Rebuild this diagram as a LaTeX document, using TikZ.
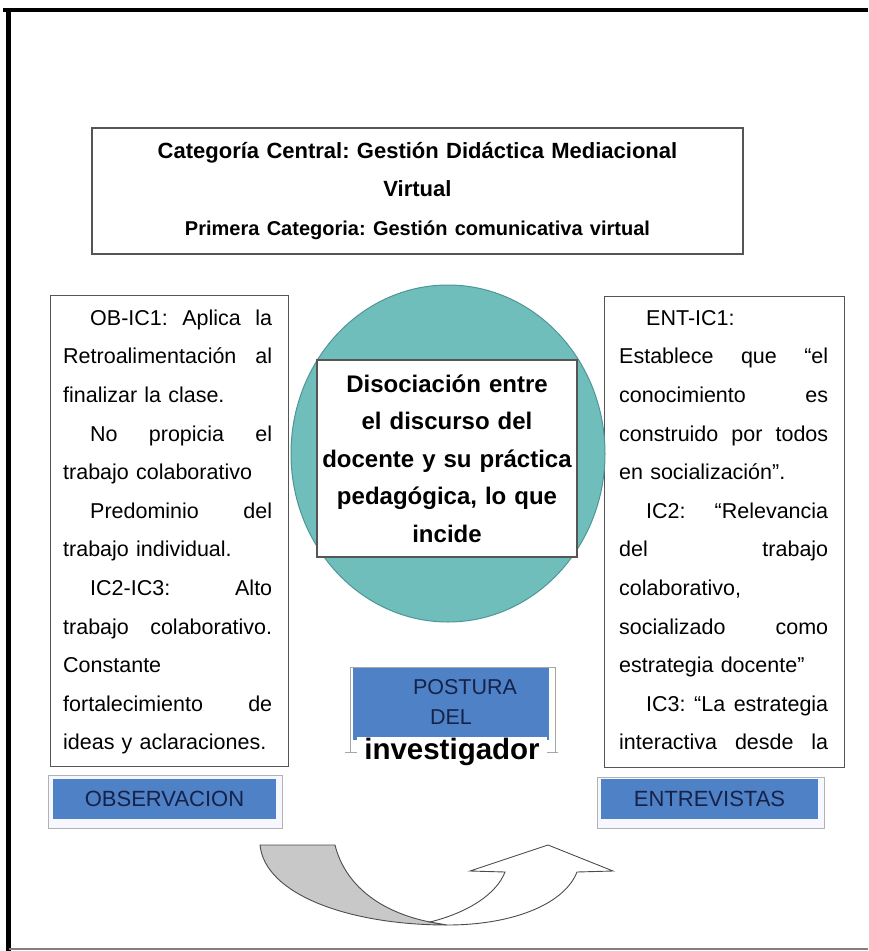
\documentclass[tikz,border=0pt]{standalone}
\usepackage{fontspec}
\setmainfont{Liberation Sans}
\usetikzlibrary{shapes.geometric}
\definecolor{tealfill}{RGB}{112,190,188}
\definecolor{tealline}{RGB}{78,150,150}
\definecolor{labelblue}{RGB}{79,129,199}
\definecolor{labelnavy}{RGB}{22,34,72}
\definecolor{boxgray}{RGB}{85,85,85}
\definecolor{arrowgray}{RGB}{200,200,200}
\frenchspacing
\tikzset{
  textbox/.style={draw=boxgray, line width=1.2pt, fill=white, inner sep=0pt},
  bodytext/.style={text width=209pt, align=left, inner sep=0pt,
    font=\fontsize{21.5}{38.6}\selectfont},
  labelframe/.style={draw=gray!60, line width=1pt, fill=blue!3, inner sep=0pt},
  bluelabel/.style={fill=labelblue, inner sep=0pt, text=labelnavy,
    font=\fontsize{22}{25}\selectfont},
  curvearrow/.style={draw=gray!60!black, line width=0.9pt}
}
\begin{document}
\begin{tikzpicture}[x=1pt,y=-1pt]
\useasboundingbox (0,0) rectangle (868,951);
% outer frame
\draw[line width=4pt] (3,9.5) -- (868,9.5);
\draw[line width=5pt] (8.5,9.5) -- (8.5,951);
\draw[gray, line width=2pt] (8.5,949) -- (868,949);
% title
\node[textbox, minimum width=651pt, minimum height=126pt, text width=640pt, align=center,
  font=\bfseries\fontsize{22}{38.5}\selectfont] (titlebox) at (417.5,191)
  {Categoría Central: Gestión Didáctica Mediacional\\Virtual\\
   {\fontsize{20}{38.5}\selectfont Primera Categoria: Gestión comunicativa virtual}};
% side boxes
\node[textbox, minimum width=238pt, minimum height=471pt, anchor=north west] (obsbox) at (50,295) {};
\node[textbox, minimum width=240pt, minimum height=471pt, anchor=north west] (entbox) at (604,296) {};
\node[bodytext, anchor=north west] (obstext) at (63,298) {%
\strut\hspace*{27pt}OB-IC1:\hfill Aplica\hfill la\\
Retroalimentación\hfill al\\
finalizar la clase.\\
\hspace*{27pt}No\hfill propicia\hfill el\\
trabajo colaborativo\\
\hspace*{27pt}Predominio\hfill del\\
trabajo individual.\\
\hspace*{27pt}IC2-IC3:\hfill Alto\\
trabajo\hfill colaborativo.\\
Constante\\
fortalecimiento\hfill de\\
ideas y aclaraciones.};
\node[bodytext, anchor=north west] (enttext) at (619,298) {%
\strut\hspace*{27pt}ENT-IC1:\\
Establece\hfill que\hfill “el\\
conocimiento\hfill es\\
construido\hfill por\hfill todos\\
en socialización”.\\
\hspace*{27pt}IC2:\hfill “Relevancia\\
del\hfill trabajo\\
colaborativo,\\
socializado\hfill como\\
estrategia docente”\\
\hspace*{27pt}IC3:\hfill “La\hfill estrategia\\
interactiva\hfill desde\hfill la};
% centre
\node[ellipse, draw=tealline, line width=1pt, fill=tealfill, minimum width=314pt,
  minimum height=337pt, inner sep=0pt] (circ) at (448,453.5) {};
\node[textbox, minimum width=260pt, minimum height=197pt, text width=254pt, align=center,
  font=\bfseries\fontsize{24}{37.5}\selectfont] (discbox) at (447,458.5)
  {Disociación entre\\el discurso del\\docente y su práctica\\pedagógica, lo que\\incide};
% postura
\draw[gray!70, line width=1pt] (350,752) -- (350,667) -- (555,667) -- (555,752);
\draw[gray!70, line width=1pt] (345,752) -- (357,752) (543,752) -- (558,752);
\node[bluelabel, minimum width=196pt, minimum height=72pt, anchor=north west] (postbox) at (353,668) {};
\node[text=labelnavy, font=\fontsize{21.5}{25}\selectfont, inner sep=0pt] (postura) at (465,687) {POSTURA};
\node[text=labelnavy, font=\fontsize{21.5}{25}\selectfont, inner sep=0pt] (del) at (451,717) {DEL};
\node[fill=white, minimum width=190pt, minimum height=30pt, inner sep=0pt,
  font=\bfseries\fontsize{29.5}{30}\selectfont] (invest) at (452,752) {investigador};
% labels
\node[labelframe, minimum width=234pt, minimum height=53pt] (obsframe) at (165,801.5) {};
\node[bluelabel, minimum width=223pt, minimum height=40pt] (obslabel) at (164.5,799) {OBSERVACION};
\node[labelframe, minimum width=227pt, minimum height=51pt] (entframe) at (710.5,802.5) {};
\node[bluelabel, minimum width=217pt, minimum height=40pt] (entlabel) at (709.5,799) {ENTREVISTAS};
% curved arrows
\filldraw[curvearrow, fill=arrowgray] (260,845) -- (335,845)
  .. controls (345,885) and (380,912) .. (430,922) -- (447,925)
  .. controls (350,925) and (265,895) .. (260,845) -- cycle;
\filldraw[curvearrow, fill=white] (430,922) .. controls (470,912) and (497,893) .. (505,872)
  -- (470,871) -- (548,845) -- (613,871) -- (577,872)
  .. controls (565,903) and (515,925) .. (447,925) -- cycle;
\end{tikzpicture}
\end{document}
